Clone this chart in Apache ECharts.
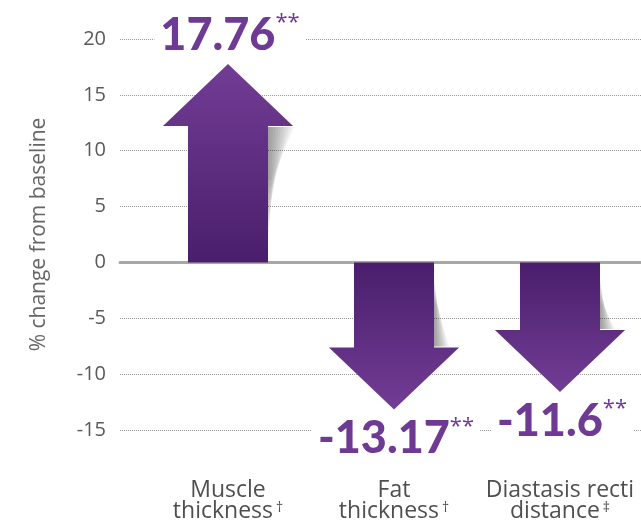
<!DOCTYPE html>
<html>
<head>
<meta charset="utf-8">
<script src="https://cdn.jsdelivr.net/npm/echarts@6/dist/echarts.min.js"></script>
<style>
html,body{margin:0;padding:0;background:#fff;}
#chart{width:641px;height:524px;}
</style>
</head>
<body>
<div id="chart"></div>
<script>
// ---- data ----
var categories = ['Muscle\nthickness', 'Fat\nthickness', 'Diastasis recti\ndistance'];
var footnoteMarks = ['\u2020', '\u2020', '\u2021'];
var values = [17.76, -13.17, -11.6];
var valueLabels = ['17.76', '-13.17', '-11.6'];
var significance = ['**', '**', '**'];
var yTicks = { min: -15, max: 20, interval: 5 };
var yAxisTitle = '% change from baseline';

var chart = echarts.init(document.getElementById('chart'), null, { renderer: 'canvas' });

var seriesData = values.map(function (v, i) { return [i, v]; });

function renderArrow(params, api) {
  var i = api.value(0);
  var v = api.value(1);
  var base = api.coord([i, 0]);
  var tip = api.coord([i, v]);
  var unit = api.size([1, 0])[0];
  var cx = base[0];
  var shaftHalf = unit * 0.241;
  var headHalf = unit * 0.392;
  var headLen = 62;
  var up = v > 0;
  var dir = up ? -1 : 1;
  var headBaseY = tip[1] - dir * headLen;
  var pts = [
    [cx - shaftHalf, base[1]],
    [cx - shaftHalf, headBaseY],
    [cx - headHalf, headBaseY],
    [cx, tip[1]],
    [cx + headHalf, headBaseY],
    [cx + shaftHalf, headBaseY],
    [cx + shaftHalf, base[1]]
  ];
  var light = '#723d95', dark = '#4a1e6c';
  var grad = new echarts.graphic.LinearGradient(0, 0, 0, 1, up
    ? [{ offset: 0, color: light }, { offset: 1, color: dark }]
    : [{ offset: 0, color: dark }, { offset: 1, color: light }]);

  // soft shadow to the right of the shaft, built from layered translucent strips
  var sx = cx + shaftHalf;
  var children = [];
  var N = 10;
  for (var k = 1; k <= N; k++) {
    var f = k / N;
    var poly;
    if (up) {
      var w = 26 * f;
      var y0 = headBaseY + 1;
      var y1 = headBaseY + 120 * (1 - 0.55 * f);
      poly = [[sx - 1, y0], [sx + w, y0], [sx + w * 0.15, y1], [sx - 1, y1]];
    } else {
      var w2 = 15 * f;
      var y0d = base[1] + 12 + 30 * f;
      var y1d = headBaseY - 1;
      poly = [[sx - 1, y0d], [sx + w2 * 0.2, y0d], [sx + w2, y1d], [sx - 1, y1d]];
    }
    children.push({ type: 'polygon', shape: { points: poly }, style: { fill: 'rgba(0,0,0,0.045)' } });
  }
  children.push({ type: 'polygon', shape: { points: pts }, style: { fill: grad } });

  var labelY = up ? tip[1] - 6 : tip[1] + 6;
  var idx = params.dataIndex;
  var parts = categories[idx].split('\n');

  children.push({
    type: 'text',
    x: cx + 2,
    y: labelY,
    style: {
      text: '{v|' + valueLabels[idx] + '}{s|' + significance[idx] + '}',
      align: 'center',
      verticalAlign: up ? 'bottom' : 'top',
      backgroundColor: '#fff',
      padding: [0, 6, 0, 6],
      rich: {
        v: { fontSize: 45, fontWeight: 900, fontFamily: 'Lato', fill: '#6f3a94', lineHeight: 46 },
        s: { fontSize: 22, fontWeight: 400, fontFamily: 'Open Sans', fill: '#6f3a94', verticalAlign: 'top', lineHeight: 46 }
      }
    }
  });
  children.push({
    type: 'text',
    x: cx,
    y: api.coord([i, yTicks.min])[1] + 92,
    style: {
      text: parts[0] + '\n' + parts[1] + '{d|' + footnoteMarks[idx] + '}',
      align: 'center',
      verticalAlign: 'bottom',
      fontSize: 23,
      fontFamily: 'Open Sans',
      fontWeight: 'normal',
      fill: '#4f4f4f',
      lineHeight: 21,
      rich: {
        d: { fontSize: 14, fontFamily: 'Open Sans', fill: '#4f4f4f', verticalAlign: 'top', lineHeight: 21, padding: [0, 0, 0, 3] }
      }
    }
  });

  return { type: 'group', children: children };
}

chart.setOption({
  animation: false,
  backgroundColor: '#ffffff',
  grid: { left: 120, right: 0, top: 39, bottom: 94, containLabel: false },
  xAxis: {
    type: 'value',
    min: -0.6506,
    max: 2.488,
    axisLine: { show: true, onZero: true, lineStyle: { color: '#a8a8a8', width: 3 } },
    axisTick: { show: false },
    axisLabel: { show: false },
    splitLine: { show: false }
  },
  yAxis: {
    type: 'value',
    min: yTicks.min,
    max: yTicks.max,
    interval: yTicks.interval,
    name: yAxisTitle,
    nameLocation: 'middle',
    nameGap: 70,
    nameRotate: 90,
    nameTextStyle: { fontSize: 21, color: '#666666', fontFamily: 'Open Sans' },
    axisLine: { show: false },
    axisTick: { show: false },
    axisLabel: { fontSize: 20, color: '#5a5a5a', fontFamily: 'Open Sans', margin: 14 },
    splitLine: { lineStyle: { type: 'dotted', color: '#9a9a9a', width: 1 } }
  },
  series: [{
    type: 'custom',
    renderItem: renderArrow,
    data: seriesData,
    clip: false,
    z: 10
  }]
});
</script>
</body>
</html>
